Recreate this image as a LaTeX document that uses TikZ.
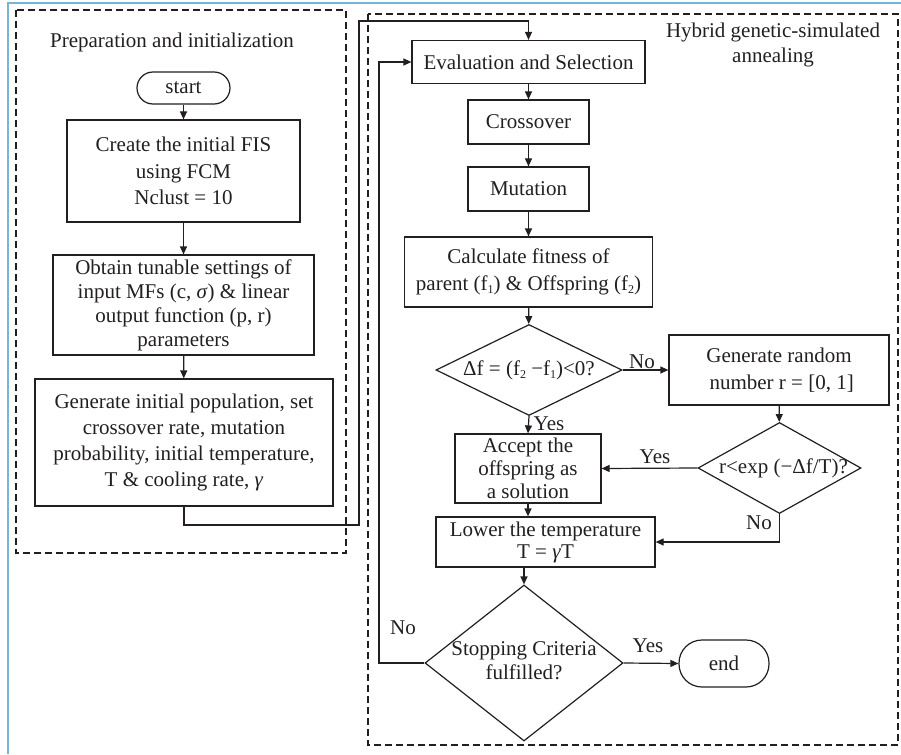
\documentclass[tikz,border=0pt]{standalone}
\usepackage{fontspec}
\setmainfont{Liberation Serif}
\usetikzlibrary{shapes.geometric,arrows.meta}
\definecolor{lc}{RGB}{35,31,32}
\definecolor{framec}{RGB}{120,180,215}
\newcommand{\zw}[1]{\makebox[0pt]{#1}}
\newcommand{\sbs}[1]{\raisebox{-3pt}{\fontsize{12pt}{12pt}\selectfont #1}}
\begin{document}
\begin{tikzpicture}[x=1pt,y=-1pt,
  every node/.style={font=\fontsize{21pt}{25pt}\selectfont, text=lc},
  box/.style={draw=lc, line width=1.2pt, rectangle, inner sep=0pt, align=center},
  term/.style={box},
  dia/.style={draw=lc, line width=1.2pt, diamond, inner sep=0pt, align=center},
  arr/.style={draw=lc, line width=1.2pt, -{Triangle[length=8pt,width=7pt]}},
  wire/.style={draw=lc, line width=1.2pt},
  grp/.style={draw=lc, line width=1.1pt, dash pattern=on 7pt off 4pt},
  lbl/.style={inner sep=0pt}
]
\useasboundingbox (0,0) rectangle (901,754);
% outer frame
\draw[framec, line width=1.6pt] (8,754) -- (8,3) -- (901,3);
% group boxes
\draw[grp] (16,10) rectangle (346,553);
\draw[grp] (368,14) rectangle (898,745);
\node[lbl] (tprep) at (172,42) {Preparation and initialization};
\node[lbl, align=center, font=\fontsize{21pt}{25pt}\selectfont] (thyb) at (773,45) {Hybrid genetic-simulated\\annealing};

% left column
\node[term, rounded corners=16pt, minimum width=93pt, minimum height=32pt] (start) at (183.5,88) {start};
\node[box, minimum width=233pt, minimum height=102pt, font=\fontsize{21pt}{26.5pt}\selectfont] (b1) at (183.5,171) {Create the initial FIS\\using FCM\\Nclust = 10};
\node[box, minimum width=261pt, minimum height=100pt, font=\fontsize{21pt}{24pt}\selectfont] (b2) at (183.5,305) {Obtain tunable settings of\\input MFs (c, \textit{σ}) \& linear\\output function (p, r)\\parameters};
\node[box, minimum width=298pt, minimum height=127pt, font=\fontsize{21pt}{26pt}\selectfont] (b3) at (184,442.5) {Generate initial population, set\\crossover rate, mutation\\probability, initial temperature,\\T \& cooling rate, \textit{γ}};

% right column
\node[box, minimum width=233pt, minimum height=43pt] (eval) at (528.5,62) {Evaluation and Selection};
\node[box, minimum width=121pt, minimum height=44pt] (cross) at (528.5,122) {Crossover};
\node[box, minimum width=121pt, minimum height=44pt] (mut) at (528.5,189) {Mutation};
\node[box, minimum width=248pt, minimum height=70pt, font=\fontsize{21pt}{27pt}\selectfont] (calc) at (528.5,272) {Calculate fitness of\\parent (f\sbs{1}) \& Offspring (f\sbs{2})};
\node[dia, minimum width=186pt, minimum height=91pt] (d1) at (529,370) {\zw{Δf = (f\sbs{2} −f\sbs{1})<0?}};
\node[box, minimum width=220pt, minimum height=70pt, font=\fontsize{21pt}{27pt}\selectfont] (gen) at (779,370) {Generate random\\\ number r = [0, 1]};
\node[dia, minimum width=163pt, minimum height=91pt] (d2) at (779.5,468) {\zw{\hspace{8pt}r<exp (−Δf/T)?}};
\node[box, minimum width=146pt, minimum height=69pt, font=\fontsize{21pt}{23pt}\selectfont] (acc) at (528,468.5) {Accept the\\offspring as\\a solution};
\node[box, minimum width=219pt, minimum height=50pt, font=\fontsize{21pt}{22pt}\selectfont] (lower) at (545.5,542) {Lower the temperature\\T = \textit{γ}T};
\node[dia, minimum width=198pt, minimum height=156pt, font=\fontsize{21pt}{24pt}\selectfont] (d3) at (524,663) {\zw{\begin{tabular}{@{}c@{}}Stopping Criteria\\fulfilled?\end{tabular}}};
\node[term, rounded corners=23pt, minimum width=90pt, minimum height=47pt] (end) at (724,663.5) {end};

% connectors left
\draw[arr] (start) -- (b1);
\draw[arr] (b1) -- (b2);
\draw[arr] (b2) -- (b3);
\coordinate (j1) at (359,525);
\coordinate (j2) at (359,21);
\draw[arr] (b3.south) |- (j1) -- (j2) -| (eval.north);

% connectors right
\draw[arr] (eval) -- (cross);
\draw[arr] (cross) -- (mut);
\draw[arr] (mut) -- (calc);
\draw[arr] (calc) -- (d1);
\draw[arr] (d1.east) -- (gen.west);
\draw[arr] (gen) -- (d2);
\draw[arr] (d1.south) -- (acc.north);
\draw[arr] (d2.west) -- (acc.east);
\draw[arr] (d2.south) |- (lower.east);
\draw[arr] (acc.south) -- (acc.south |- lower.north);
\draw[arr] (lower.south -| d3.north) -- (d3.north);
\draw[arr] (d3.east) -- (end.west);
\coordinate (fb) at (379,0);
\draw[arr] (d3.west) -| (fb |- eval.west) -- (eval.west);

% labels
\node[lbl] (no1) at (642,362) {No};
\node[lbl] (yes1) at (549,424) {Yes};
\node[lbl] (yes2) at (655,457) {Yes};
\node[lbl] (no2) at (759,523) {No};
\node[lbl] (yes3) at (648,646) {Yes};
\node[lbl] (no3) at (403,628) {No};
\end{tikzpicture}
\end{document}
